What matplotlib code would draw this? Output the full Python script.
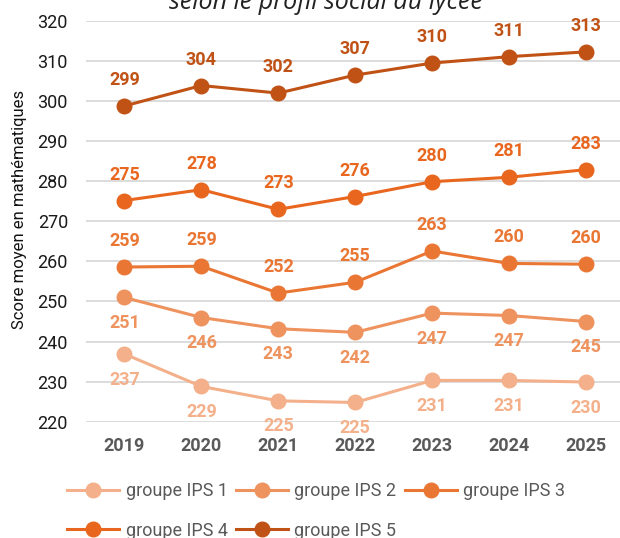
import matplotlib
matplotlib.use("Agg")
import matplotlib.pyplot as plt
import numpy as np

years = ["2019", "2020", "2021", "2022", "2023", "2024", "2025"]
groups = ["groupe IPS 1", "groupe IPS 2", "groupe IPS 3", "groupe IPS 4", "groupe IPS 5"]

ips1 = [236.9, 228.8, 225.2, 224.8, 230.3, 230.3, 229.9]
ips2 = [251.0, 246.0, 243.2, 242.3, 247.1, 246.5, 245.0]
ips3 = [258.6, 258.8, 252.1, 254.8, 262.6, 259.5, 259.3]
ips4 = [275.2, 277.9, 273.0, 276.2, 279.9, 281.0, 282.9]
ips5 = [298.8, 303.9, 302.0, 306.5, 309.5, 311.1, 312.3]

labels1 = [237, 229, 225, 225, 231, 231, 230]
labels2 = [251, 246, 243, 242, 247, 247, 245]
labels3 = [259, 259, 252, 255, 263, 260, 260]
labels4 = [275, 278, 273, 276, 280, 281, 283]
labels5 = [299, 304, 302, 307, 310, 311, 313]

colors = ["#F3B08A", "#EE925E", "#EA7634", "#E8661E", "#C05216"]

series = [ips1, ips2, ips3, ips4, ips5]
labels = [labels1, labels2, labels3, labels4, labels5]
above = [False, False, True, True, True]

plt.rcParams["font.family"] = ["Roboto", "DejaVu Sans"]

fig = plt.figure(figsize=(6.2, 5.38), dpi=100)
ax = fig.add_axes([86 / 620, 1 - 421.7 / 538, 538.4 / 620, 400.7 / 538])

x = np.arange(len(years))
handles = []
for vals, labs, col, up, name in zip(series, labels, colors, above, groups):
    h, = ax.plot(x, vals, color=col, lw=2.2, marker="o", markersize=10.5,
                 label=name, zorder=3)
    handles.append(h)
    for xi, v, lab in zip(x, vals, labs):
        off = 18.7 if up else -18.4
        ax.annotate(str(lab), (xi, v), xytext=(0, off), textcoords="offset points",
                    ha="center", va="center", fontsize=13, fontweight="bold",
                    color=col, zorder=4)

ax.set_xlim(-0.5, len(years) - 0.5)
ax.set_ylim(220, 320)
ax.set_yticks(np.arange(220, 321, 10))
ax.set_xticks(x)
ax.set_xticklabels(years, fontsize=13, fontweight="bold", color="#595959")
ax.tick_params(axis="x", length=0, pad=11)
ax.tick_params(axis="y", length=0, pad=13, labelsize=13, labelcolor="#1a1a1a")
ax.grid(True, axis="y", color="#D9D9D9", lw=1.3)
ax.set_axisbelow(True)
for s in ax.spines.values():
    s.set_visible(False)

ax.set_ylabel("Score moyen en mathématiques", fontsize=12, color="#111111")
ax.yaxis.set_label_coords(-0.11, 0.53)

fig.text(0.525, 1 - 9 / 538, "selon le profil social du lycée", ha="center",
         va="baseline", fontsize=18, style="italic", family="Open Sans",
         color="#222222")

# row-wise order for a 3-column legend
order = [0, 3, 1, 4, 2]
leg = fig.legend([handles[i] for i in order], [groups[i] for i in order],
                 loc="upper left", bbox_to_anchor=(67 / 620, 1 - 482 / 538),
                 ncol=3, frameon=False, fontsize=13, handlelength=2.9,
                 handletextpad=0.35, columnspacing=0.45, labelspacing=1.2,
                 borderpad=0, borderaxespad=0)
for t in leg.get_texts():
    t.set_color("#595959")

fig.savefig("out.png", dpi=100)
